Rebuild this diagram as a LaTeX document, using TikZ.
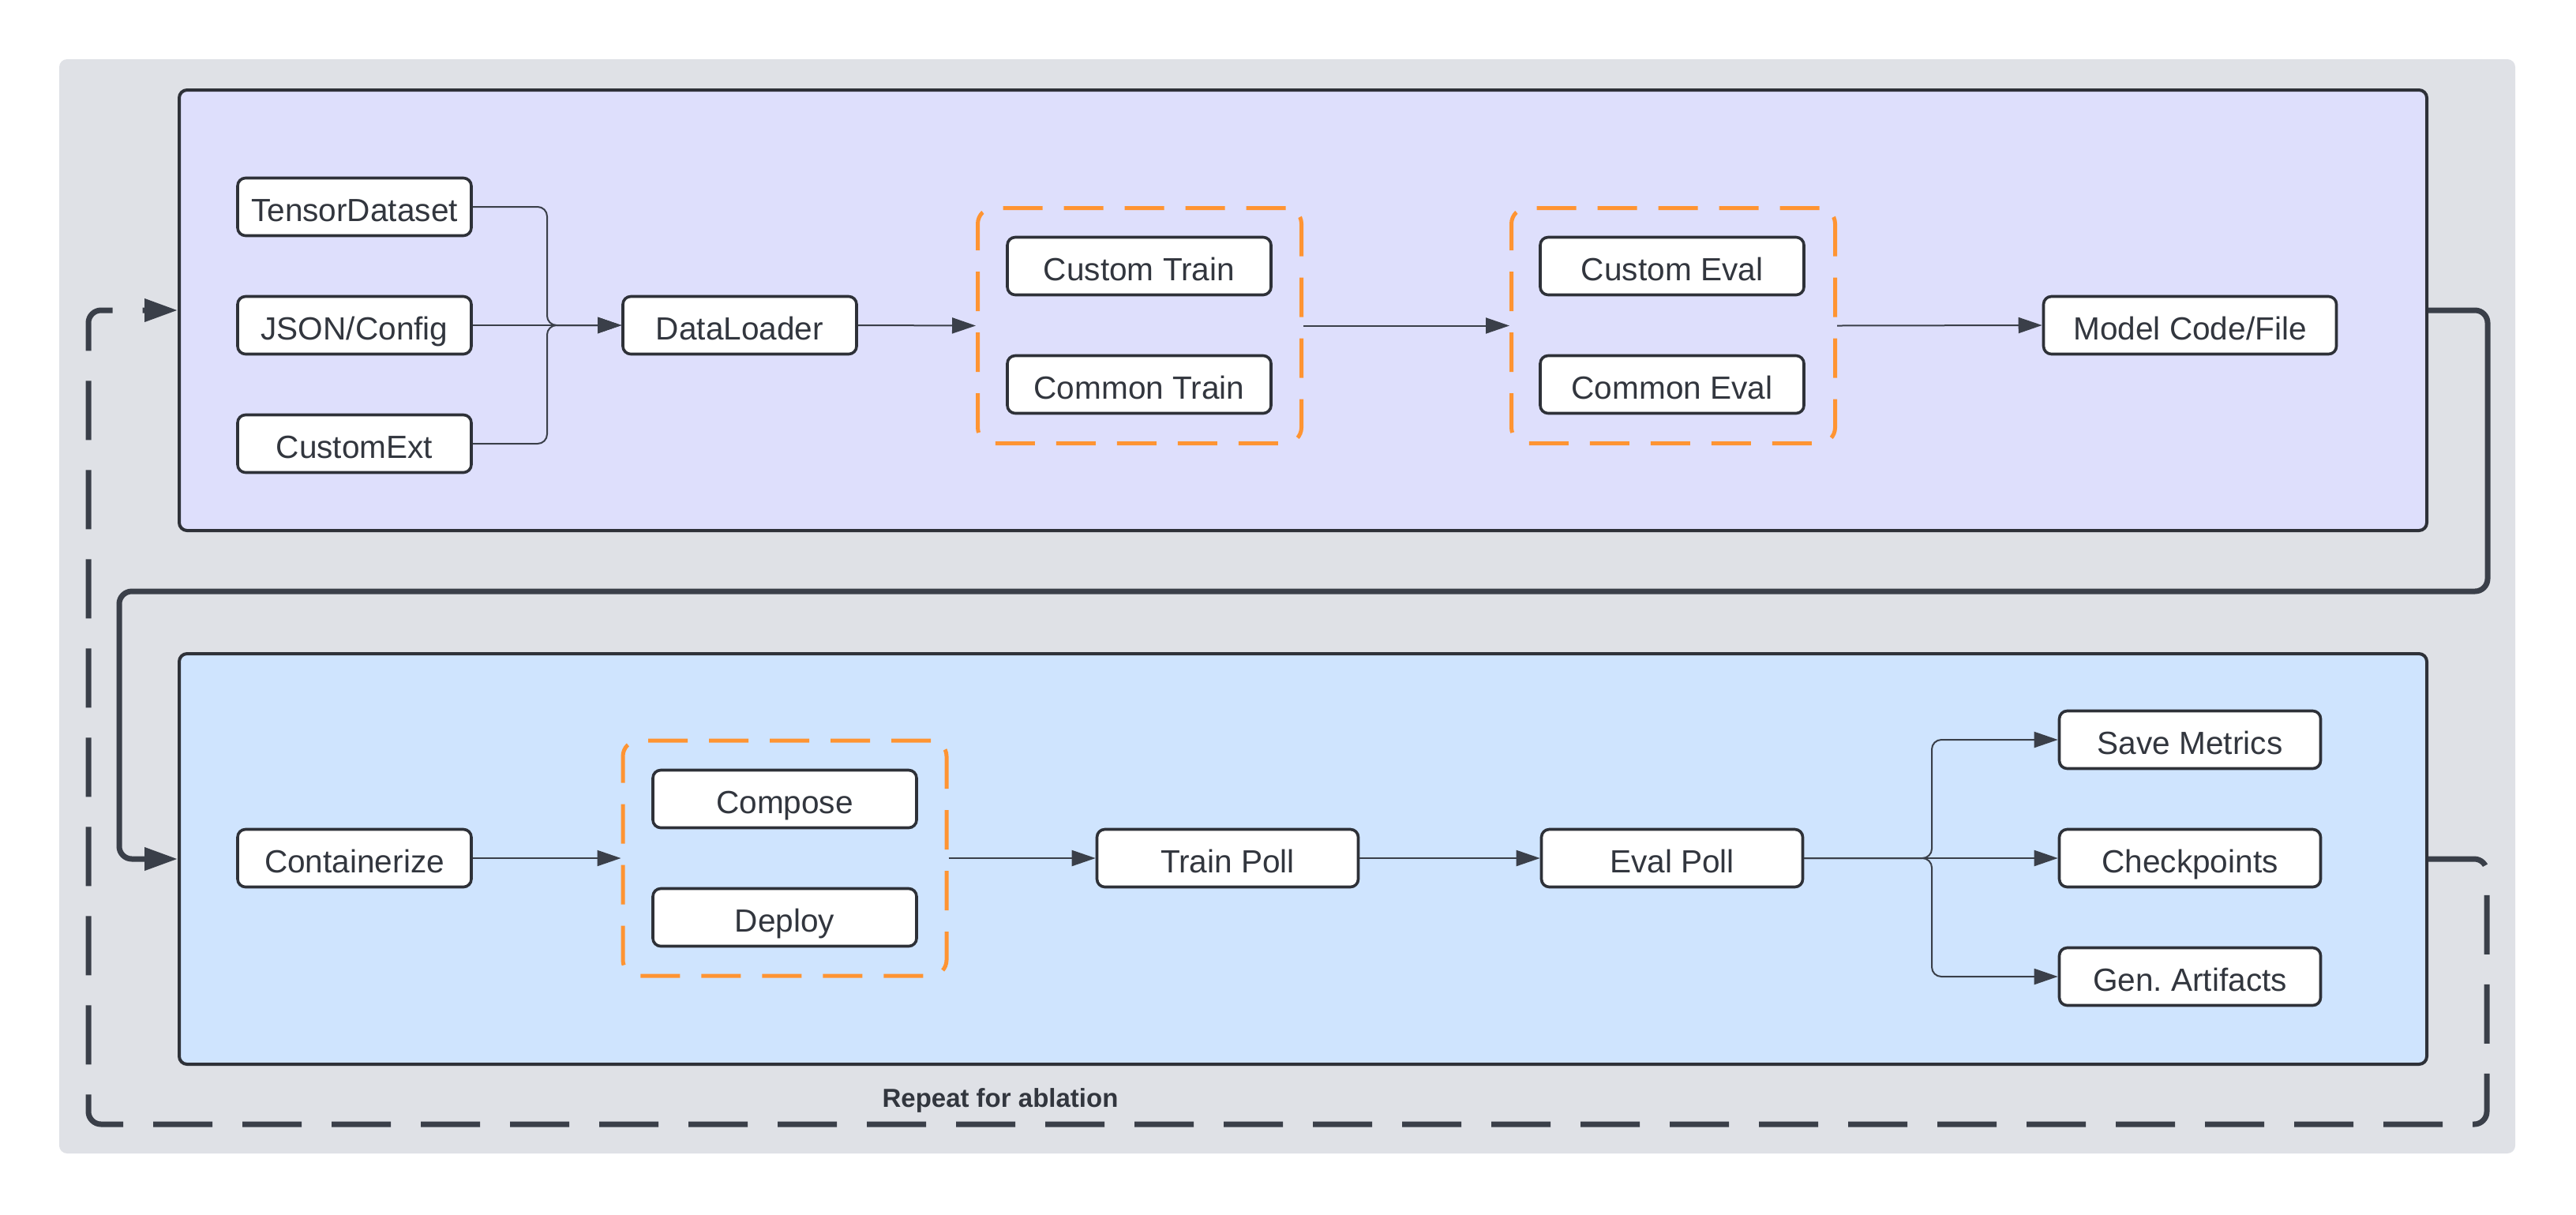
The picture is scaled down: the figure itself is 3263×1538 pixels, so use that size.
\documentclass[tikz,border=0pt]{standalone}
\usepackage{fontspec}
\setmainfont{Liberation Sans}
\usetikzlibrary{arrows.meta}
\frenchspacing

\definecolor{canvas}{RGB}{223,225,230}
\definecolor{stagea}{RGB}{222,223,252}
\definecolor{stageb}{RGB}{207,228,254}
\definecolor{ink}{RGB}{46,49,56}
\definecolor{wire}{RGB}{58,63,73}
\definecolor{txt}{RGB}{50,54,62}
\definecolor{accent}{RGB}{255,148,50}

\begin{document}
\begin{tikzpicture}[x=0.5pt,y=-0.5pt,
  panel/.style={draw=ink, line width=2pt, rounded corners=5pt, inner sep=0pt},
  box/.style={draw=ink, line width=1.8pt, fill=white, rounded corners=5pt,
    minimum height=36.5pt, inner sep=0pt, text=txt,
    text height=18.6pt, text depth=0pt,
    font=\fontsize{20.3}{24}\selectfont},
  wA/.style={minimum width=148pt},
  wB/.style={minimum width=167pt},
  wC/.style={minimum width=165.5pt},
  wD/.style={minimum width=185.5pt},
  grp/.style={draw=accent, line width=2.5pt, rounded corners=10pt,
    dash pattern=on 25pt off 13.5pt, minimum width=205pt, minimum height=149pt, inner sep=0pt},
  conn/.style={draw=wire, line width=1pt, rounded corners=6pt,
    -{Triangle[length=15pt,width=10pt]}},
  loop/.style={draw=wire, line width=3.5pt, rounded corners=8pt,
    -{Triangle[length=21pt,width=14pt]}},
  loopdash/.style={loop, dash pattern=on 37.5pt off 19pt}
]
\useasboundingbox (0,0) rectangle (3263,1538);

% backdrop
\fill[canvas, rounded corners=5pt] (75,75) rectangle (3186,1461);

% stage panels
\node[panel, fill=stagea, minimum width=1423.5pt, minimum height=279pt] (top) at (1650.5,393) {};
\node[panel, fill=stageb, minimum width=1423.5pt, minimum height=260pt] (bot) at (1650.5,1088) {};

% data sources and loader
\node[box, wA] (td) at (449,262) {TensorDataset};
\node[box, wA] (js) at (449,412) {JSON/Config};
\node[box, wA] (ce) at (449,562) {CustomExt};
\node[box, wA] (dl) at (937,412) {DataLoader};

% training group
\node[grp] (gtrain) at (1443.5,412.5) {};
\node[box, wB] (ctr) at (1443,337) {Custom Train};
\node[box, wB] (cmt) at (1443,487) {Common Train};

% evaluation group
\node[grp] (geval) at (2119.5,412.5) {};
\node[box, wB] (cev) at (2118,337) {Custom Eval};
\node[box, wB] (cmv) at (2118,487) {Common Eval};

\node[box, wD] (mc) at (2774,412) {Model Code/File};

% lower stage
\node[box, wA] (cz) at (449,1087) {Containerize};
\node[grp] (gdep) at (994,1087) {};
\node[box, wB] (cp) at (994,1012) {Compose};
\node[box, wB] (dp) at (994,1162) {Deploy};
\node[box, wC] (tp) at (1555,1087) {Train Poll};
\node[box, wC] (ep) at (2118,1087) {Eval Poll};
\node[box, wC] (sm) at (2774,937) {Save Metrics};
\node[box, wC] (ck) at (2774,1087) {Checkpoints};
\node[box, wC] (ga) at (2774,1237) {Gen. Artifacts};

% upper stage connectors
\draw[conn] (td.east) -- (693,262) -- (693,412) -- (dl.west);
\draw[conn] (js.east) -- (dl.west);
\draw[conn] (ce.east) -- (693,562) -- (693,412) -- (dl.west);
\draw[conn] (dl.east) -- (gtrain.west);
\draw[conn] (gtrain.east) -- (geval.west);
\draw[conn] (geval.east) -- (mc.west);

% lower stage connectors
\draw[conn] (cz.east) -- (gdep.west);
\draw[conn] (gdep.east) -- (tp.west);
\draw[conn] (tp.east) -- (ep.west);
\draw[conn] (ep.east) -- (2447,1087) -- (2447,937) -- (sm.west);
\draw[conn] (ep.east) -- (ck.west);
\draw[conn] (ep.east) -- (2447,1087) -- (2447,1237) -- (ga.west);

% hand-off between stages
\draw[loop] (top.east) -- (3151,393) -- (3151,749) -- (151,749) -- (151,1088) -- (bot.west);

% repeat loop
\draw[loopdash] (bot.east) -- (3150,1088) -- (3150,1424) -- (112,1424) -- (112,393) -- (top.west);
\node[text=txt, font=\bfseries\fontsize{16.5}{20}\selectfont] (rep) at (1267,1394) {Repeat for ablation};
\end{tikzpicture}
\end{document}
